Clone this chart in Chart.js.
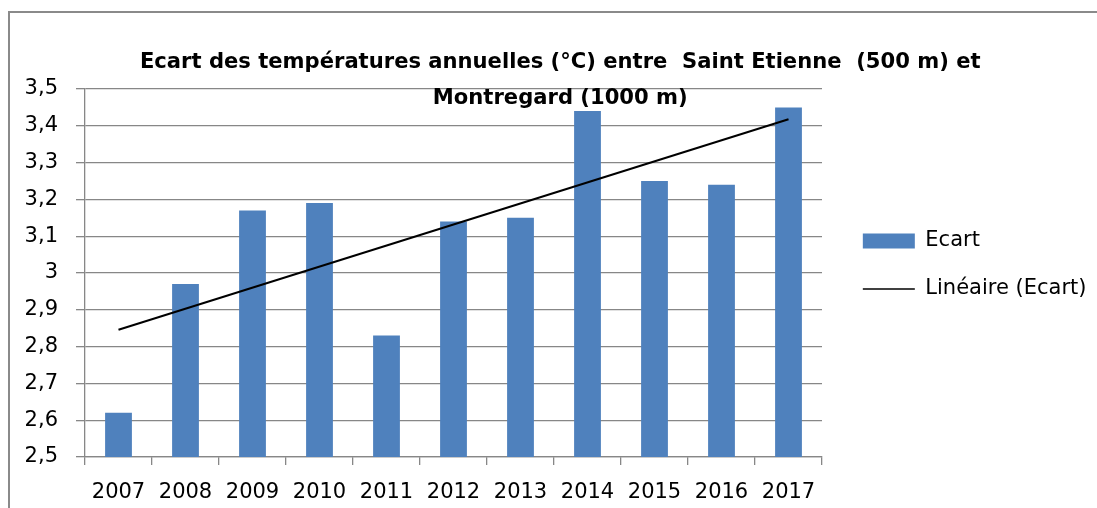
<!DOCTYPE html>
<html><head><meta charset="utf-8">
<script src="https://cdn.jsdelivr.net/npm/chart.js@4.4.1/dist/chart.umd.min.js"></script>
<style>html,body{margin:0;padding:0;background:#fff;overflow:hidden}canvas{display:block}</style>
</head><body>
<canvas id="c" width="1097" height="508"></canvas>
<script>
const categories = ['2007','2008','2009','2010','2011','2012','2013','2014','2015','2016','2017'];
const ecart = [2.62, 2.97, 3.17, 3.19, 2.83, 3.14, 3.15, 3.44, 3.25, 3.24, 3.45];
const trendLine = [2.846, null, null, null, null, null, null, null, null, null, 3.418];
const seriesNames = ['Ecart', 'Linéaire (Ecart)'];
const titleLines = ['Ecart des températures annuelles (°C) entre  Saint Etienne  (500 m) et', 'Montregard (1000 m)'];
const yMin = 2.5, yMax = 3.5, yStep = 0.1;

const FONT = 'DejaVu Sans';
const GRID = '#878787';
const PAD_L = 24, PAD_R = 0.5, PAD_T = 22;
const PLOT_LEFT = 85, PLOT_RIGHT = 822;

const framePlugin = {
  id: 'frame',
  beforeDraw(chart) {
    const ctx = chart.ctx;
    ctx.save();
    ctx.strokeStyle = '#8a8a8a';
    ctx.lineWidth = 2;
    ctx.strokeRect(9, 12, 2000, 2000);
    ctx.restore();
  }
};

new Chart(document.getElementById('c'), {
  data: {
    labels: categories,
    datasets: [
      {
        type: 'bar', label: seriesNames[0], data: ecart,
        backgroundColor: '#4F81BD', borderWidth: 0,
        barPercentage: 0.4, categoryPercentage: 1.0,
        pointStyle: 'rect', order: 1, yAxisID: 'y'
      },
      {
        type: 'line', label: seriesNames[1], data: trendLine, spanGaps: true,
        borderColor: '#000', borderWidth: 2, fill: false, tension: 0,
        pointRadius: 0, pointHoverRadius: 0, pointStyle: 'line',
        pointBorderColor: '#000', pointBorderWidth: 1.6, pointBackgroundColor: '#000',
        order: 0, yAxisID: 'y'
      }
    ]
  },
  options: {
    responsive: false, animation: false, devicePixelRatio: 1, events: [],
    layout: { padding: { left: PAD_L, right: PAD_R, top: PAD_T, bottom: 0 } },
    scales: {
      x: {
        type: 'category', offset: true,
        grid: { display: true, drawOnChartArea: false, drawTicks: true, tickLength: 8, color: GRID, lineWidth: 1.3, offset: true },
        border: { display: true, color: GRID, width: 1.3 },
        ticks: { color: '#000', font: { family: FONT, size: 21, lineHeight: 1.2 }, padding: 15, maxRotation: 0, autoSkip: false },
        afterFit: (s) => { s.height = 51; }
      },
      y: {
        type: 'linear', position: 'left', min: yMin, max: yMax,
        grid: { color: GRID, lineWidth: 1.3, tickLength: 9, drawTicks: true, z: -1 },
        border: { display: true, color: GRID, width: 1.3 },
        ticks: {
          stepSize: yStep, color: '#000', padding: 18,
          font: { family: FONT, size: 21, lineHeight: 1.2 },
          callback: (v) => String(Math.round(v * 10) / 10).replace('.', ',')
        },
        afterFit: (s) => { s.width = PLOT_LEFT - PAD_L; }
      },
      y2: {
        type: 'linear', position: 'right', display: true,
        grid: { display: false }, border: { display: false }, ticks: { display: false },
        afterFit: (s) => {
          const lw = s.chart.legend ? s.chart.legend.width : 0;
          s.width = Math.max(0, s.chart.width - PAD_R - lw - PLOT_RIGHT);
        }
      }
    },
    plugins: {
      tooltip: { enabled: false },
      title: {
        display: true, text: titleLines, position: 'top', align: 'center', fullSize: true,
        color: '#000',
        font: { family: FONT, size: 21.1, weight: 'bold', lineHeight: 36 / 21.1 },
        padding: { top: 23, bottom: -28 }
      },
      legend: {
        display: true, position: 'right', align: 'center', fullSize: true, maxWidth: 500,
        labels: {
          usePointStyle: true, pointStyleWidth: 52, boxHeight: 15, padding: 27,
          color: '#000', font: { family: FONT, size: 21 },
          sort: (a, b) => a.datasetIndex - b.datasetIndex
        }
      }
    }
  },
  plugins: [framePlugin]
});
</script>
</body></html>
